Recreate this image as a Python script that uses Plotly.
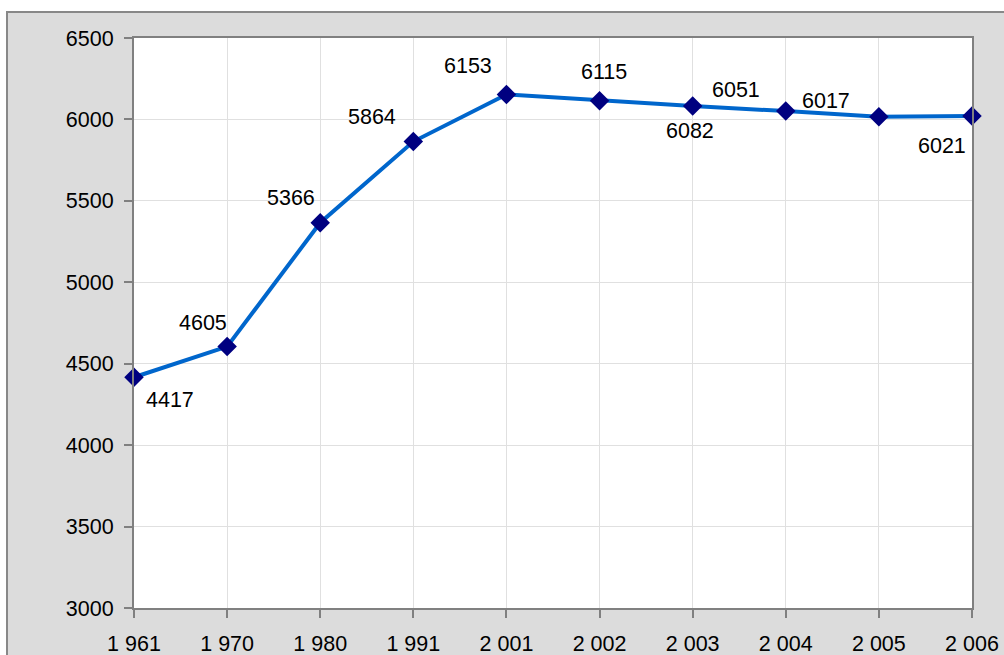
import plotly.graph_objects as go

years = ["1 961", "1 970", "1 980", "1 991", "2 001", "2 002", "2 003", "2 004", "2 005", "2 006"]
values = [4417, 4605, 5366, 5864, 6153, 6115, 6082, 6051, 6017, 6021]
y_ticks = [3000, 3500, 4000, 4500, 5000, 5500, 6000, 6500]

# label offsets in pixels (dx, dy up)
label_dx = [36, -24, -29, -41, -38, 4, -3, -50, -53, -30]
label_dy = [-23, 24, 25, 25, 29, 29, -25, 21, 16, -30]

FONT = "Liberation Sans, Arial, sans-serif"
FS = 21.5

fig = go.Figure()
fig.add_trace(go.Scatter(
    x=list(range(len(years))), y=values, mode="lines+markers",
    line=dict(color="#0066CC", width=4),
    marker=dict(symbol="diamond", size=15, color="#000080"),
    cliponaxis=False, showlegend=False, hoverinfo="skip",
))

for i, v in enumerate(values):
    fig.add_annotation(x=i, y=v, text=str(v), showarrow=False,
                       xshift=label_dx[i], yshift=label_dy[i],
                       font=dict(family=FONT, size=FS, color="#000000"))

# outer gray chart area
W, H = 1004, 655
L, R, T, B = 134, 32, 38, 47
pw, ph = W - L - R, H - T - B
def px(x): return (x - L) / pw
def py(y): return (H - B - y) / ph
fig.add_shape(type="rect", xref="paper", yref="paper", layer="below",
              x0=px(7), x1=px(1030), y0=py(12), y1=py(690),
              fillcolor="#DCDCDC", line=dict(color="#888888", width=2))
fig.add_shape(type="rect", xref="paper", yref="paper", layer="below",
              x0=0, x1=1, y0=0, y1=1, fillcolor="white", line=dict(width=0))

fig.update_layout(
    width=W, height=H, autosize=False,
    margin=dict(l=L, r=R, t=T, b=B),
    paper_bgcolor="white", plot_bgcolor="white",
    font=dict(family=FONT, size=FS, color="#000000"),
    xaxis=dict(
        tickmode="array", tickvals=list(range(len(years))), ticktext=years,
        range=[0, len(years) - 1], showgrid=True, gridcolor="#E0E0E0", gridwidth=1,
        showline=True, linecolor="#808080", linewidth=2, mirror=True,
        ticks="outside", ticklen=8, tickcolor="#808080", tickwidth=1.5,
        zeroline=False, tickfont=dict(size=FS), ticklabelstandoff=7,
        automargin=False,
    ),
    yaxis=dict(
        tickmode="array", tickvals=y_ticks, range=[3000, 6500],
        showgrid=True, gridcolor="#E0E0E0", gridwidth=1,
        showline=True, linecolor="#808080", linewidth=2, mirror=True,
        ticks="outside", ticklen=8, tickcolor="#808080", tickwidth=1.5,
        zeroline=False, tickfont=dict(size=FS), ticklabelstandoff=6,
        automargin=False,
    ),
)

fig.write_html(
    "out.html",
    config={"responsive": False, "displayModeBar": False},
    post_script="document.body.style.margin='0';document.body.style.overflow='hidden';",
)
